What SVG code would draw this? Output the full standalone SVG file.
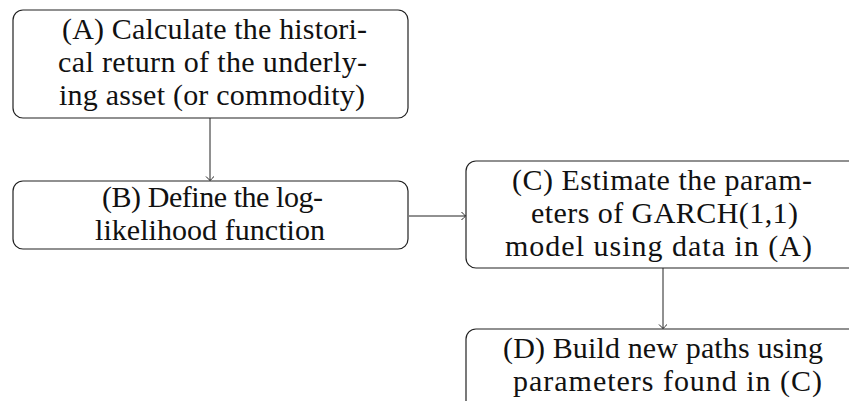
<svg xmlns="http://www.w3.org/2000/svg" width="849" height="401" viewBox="0 0 849 401">
<defs>
<style>
.box{fill:#fff;stroke:#222;stroke-width:1.2}
.t{font-family:"Liberation Serif","DejaVu Serif",serif;font-size:30px;fill:#111}
.edge{fill:none;stroke:#222;stroke-width:1}
</style>
<marker id="arr" markerUnits="userSpaceOnUse" markerWidth="12" markerHeight="12" viewBox="-6 -6 12 12" refX="0" refY="0" orient="auto">
<path d="M-4,-4 Q-0.8,-0.8 0,0 Q-0.8,0.8 -4,4" fill="none" stroke="#222" stroke-width="1"/>
</marker>
</defs>
<rect width="849" height="401" fill="#fff"/>
<g id="edges">
<line class="edge" x1="210" y1="118" x2="210" y2="180.5" marker-end="url(#arr)"/>
<line class="edge" x1="409" y1="216" x2="465.5" y2="216" marker-end="url(#arr)"/>
<line class="edge" x1="663" y1="268" x2="663" y2="328.5" marker-end="url(#arr)"/>
</g>
<g id="nodeA">
<rect class="box" x="13" y="10" width="395" height="108" rx="10"/>
<text class="t" x="62" y="39" textLength="305" lengthAdjust="spacing">(A) Calculate the histori-</text>
<text class="t" x="58" y="72" textLength="309" lengthAdjust="spacing">cal return of the underly-</text>
<text class="t" x="59" y="105" textLength="306" lengthAdjust="spacing">ing asset (or commodity)</text>
</g>
<g id="nodeB">
<rect class="box" x="13" y="181" width="395" height="68" rx="10"/>
<text class="t" x="102" y="207" textLength="221" lengthAdjust="spacing">(B) Define the log-</text>
<text class="t" x="95" y="240" textLength="230" lengthAdjust="spacing">likelihood function</text>
</g>
<g id="nodeC">
<rect class="box" x="466" y="161" width="394" height="107" rx="10"/>
<text class="t" x="512" y="190" textLength="300" lengthAdjust="spacing">(C) Estimate the param-</text>
<text class="t" x="531" y="223" textLength="267" lengthAdjust="spacing">eters of GARCH(1,1)</text>
<text class="t" x="505" y="256" textLength="307" lengthAdjust="spacing">model using data in (A)</text>
</g>
<g id="nodeD">
<rect class="box" x="466" y="329" width="394" height="100" rx="10"/>
<text class="t" x="503" y="358" textLength="320" lengthAdjust="spacing">(D) Build new paths using</text>
<text class="t" x="513" y="391" textLength="309" lengthAdjust="spacing">parameters found in (C)</text>
</g>
</svg>
